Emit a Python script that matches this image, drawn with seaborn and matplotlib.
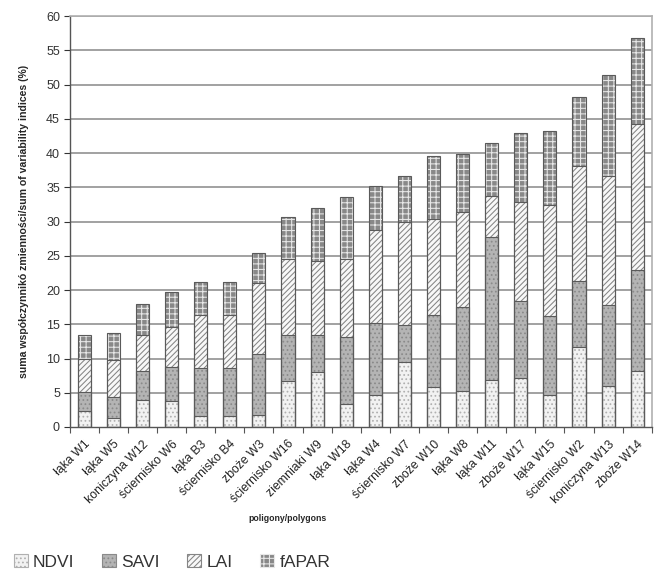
import numpy as np
import pandas as pd
import matplotlib
matplotlib.use("Agg")
import matplotlib.pyplot as plt
import seaborn as sns
from matplotlib.patches import Patch

# polygons (x categories)
polygons = ["łąka W1", "łąka W5", "koniczyna W12", "ściernisko W6", "łąka B3",
            "ściernisko B4", "zboże W3", "ściernisko W16", "ziemniaki W9", "łąka W18",
            "łąka W4", "ściernisko W7", "zboże W10", "łąka W8", "łąka W11",
            "zboże W17", "łąka W15", "ściernisko W2", "koniczyna W13", "zboże W14"]

# segment heights for each index (%)
ndvi = [2.4, 1.3, 3.9, 3.8, 1.6, 1.6, 1.7, 6.7, 8.0, 3.4,
        4.6, 9.5, 5.9, 5.3, 6.9, 7.1, 4.7, 11.7, 6.0, 8.2]
savi = [2.7, 3.1, 4.3, 4.9, 7.0, 7.0, 8.9, 6.8, 5.5, 9.8,
        10.6, 5.4, 10.4, 12.2, 20.9, 11.3, 11.5, 9.6, 11.8, 14.7]
lai = [4.8, 5.4, 5.2, 5.9, 7.7, 7.7, 10.4, 11.0, 10.8, 11.3,
       13.5, 15.1, 14.0, 13.9, 5.9, 14.5, 16.2, 16.8, 18.9, 21.3]
fapar = [3.5, 3.9, 4.6, 5.1, 4.9, 4.9, 4.4, 6.1, 7.6, 9.1,
         6.5, 6.7, 9.2, 8.4, 7.7, 10.0, 10.8, 10.1, 14.7, 12.6]

series_names = ["NDVI", "SAVI", "LAI", "fAPAR"]
yticks = list(range(0, 61, 5))

df = pd.DataFrame({"polygon": polygons, "NDVI": ndvi, "SAVI": savi,
                   "LAI": lai, "fAPAR": fapar})
cum = df[series_names].cumsum(axis=1)

# face colour, hatch, hatch colour
styles = {
    "NDVI": ("#f2f2f2", "....", "#b0b0b0"),
    "SAVI": ("#b4b4b4", "....", "#8a8a8a"),
    "LAI": ("#f8f8f8", "//////", "#858585"),
    "fAPAR": ("#888888", "+++", "#e8e8e8"),
}

sns.set_theme(style="white")
plt.rcParams["font.family"] = ["Liberation Sans", "DejaVu Sans"]
plt.rcParams["hatch.linewidth"] = 0.75

fig = plt.figure(figsize=(6.54, 5.72), dpi=100)
ax = fig.add_axes([0.1066, 0.2535, 0.890, 0.7185])

# horizontal gridlines behind the bars
for y in yticks[1:]:
    ax.axhline(y, color="#9a9a9a", lw=1.3, zorder=0)

# stacked bars: draw cumulative totals from the top layer down
for name in reversed(series_names):
    fc, hatch, hc = styles[name]
    sns.barplot(x=df["polygon"], y=cum[name], ax=ax, color=fc, width=0.45,
                errorbar=None, hatch=hatch, edgecolor=hc, linewidth=0,
                saturation=1, zorder=2)
# segment outlines
for name in series_names:
    sns.barplot(x=df["polygon"], y=cum[name], ax=ax, fill=False, color="#5a5a5a",
                width=0.45, errorbar=None, linewidth=0.8, zorder=3)

ax.set_xlim(-0.5, len(polygons) - 0.5)
ax.set_ylim(0, 60)
ax.set_yticks(yticks)
ax.tick_params(axis="y", labelsize=9, length=4, width=0.8, colors="#333333",
               left=True, pad=3)
ax.set_xticks(range(len(polygons)))
ax.set_xticklabels(polygons, rotation=45, ha="right", rotation_mode="anchor",
                   fontsize=8.8, color="#222222")
ax.tick_params(axis="x", which="major", length=0, pad=8)
ax.set_xticks(np.arange(-0.5, len(polygons), 1.0), minor=True)
ax.tick_params(axis="x", which="minor", length=4, width=0.8, color="#555555",
               bottom=True)

for side in ["left", "bottom"]:
    ax.spines[side].set_color("#555555")
    ax.spines[side].set_linewidth(1.0)
for side in ["top", "right"]:
    ax.spines[side].set_color("#b0b0b0")
    ax.spines[side].set_linewidth(1.2)

ax.set_xlabel("poligony/polygons", fontsize=6.3, fontweight="bold")
ax.xaxis.set_label_coords(0.375, -0.212)
ax.set_ylabel("suma współczynnikó zmienności/sum of variability indices (%)",
              fontsize=7.6, fontweight="bold", labelpad=12)

handles = [Patch(facecolor=styles[n][0], hatch=styles[n][1], edgecolor=styles[n][2],
                 linewidth=0.8) for n in series_names]
leg = fig.legend(handles, series_names, loc="lower left", bbox_to_anchor=(0.005, -0.014),
                 ncol=4, frameon=False, fontsize=12.5, handlelength=0.8,
                 handleheight=0.8, handletextpad=0.3, columnspacing=1.6,
                 borderaxespad=0.2)
for t in leg.get_texts():
    t.set_color("#333333")

fig.savefig("out.png", dpi=100)
